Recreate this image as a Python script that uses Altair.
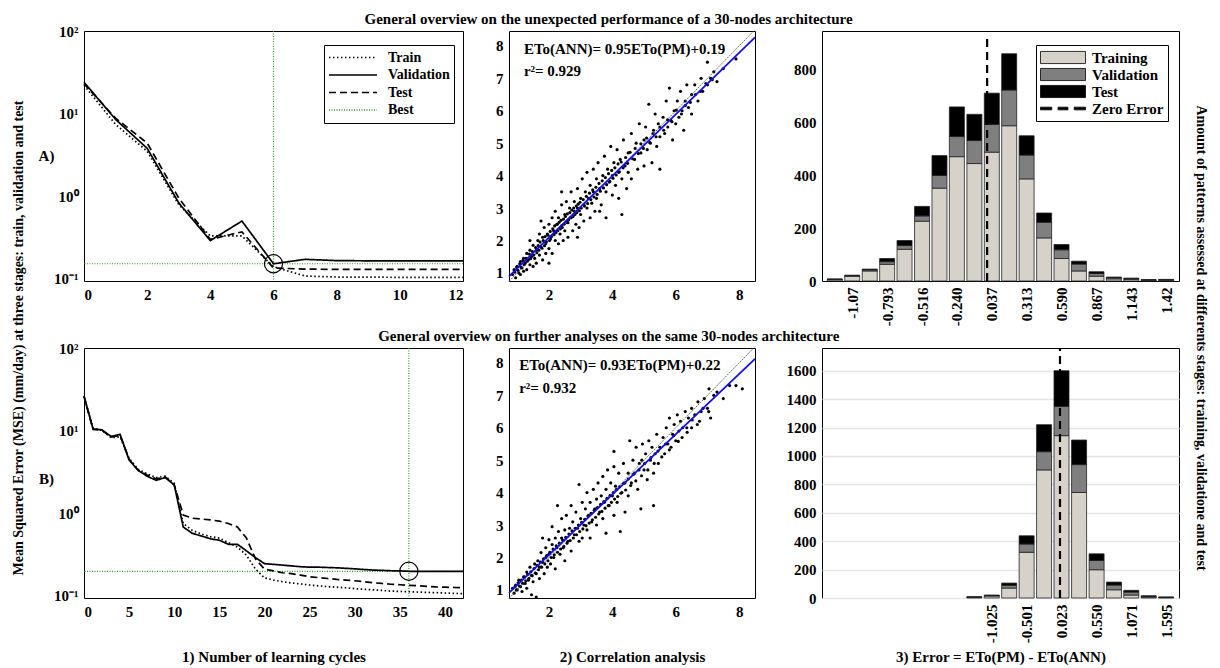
import altair as alt
import pandas as pd

FONT = "Liberation Serif"
GREEN = "#2e9a2e"

TITLE_A = "General overview on the unexpected performance of a 30-nodes architecture"
TITLE_B = "General overview on further analyses on the same 30-nodes architecture"
YLABEL_LEFT = "Mean Squared Error  (MSE) (mm/day) at three stages: train, validation and test"
YLABEL_RIGHT = "Amount of patterns assessed at differents stages: training, validatione and test"
XLABEL_1 = "1) Number of learning cycles"
XLABEL_2 = "2) Correlation analysis"
XLABEL_3 = "3) Error = ETo(PM) - ETo(ANN)"

# ---------------- 1) learning curves ----------------
series_names = ["Train", "Validation", "Test", "Best"]
series_colors = ["black", "black", "black", GREEN]
series_dash = [[1.5, 2.5], [1, 0], [7, 4], [1, 1.5]]

a_epochs = [0, 1, 2, 3, 4, 5, 6, 7, 8, 9, 10, 11, 12]
a_train = [22, 7.4, 3.5, 0.79, 0.33, 0.33, 0.14, 0.108, 0.105, 0.105, 0.104, 0.104, 0.104]
a_valid = [24, 8.5, 3.8, 0.83, 0.29, 0.50, 0.152, 0.172, 0.166, 0.165, 0.165, 0.165, 0.165]
a_test = [23, 8.8, 4.4, 0.95, 0.30, 0.37, 0.135, 0.131, 0.13, 0.13, 0.13, 0.13, 0.13]
a_best = (6, 0.152)

b_epochs = [0, 1, 2, 3, 4, 5, 6, 7, 8, 9, 10, 11, 12, 13, 14, 15, 16, 17, 18, 19, 20,
            21, 22, 23, 24, 25, 26, 27, 28, 29, 30, 31, 32, 33, 34, 35, 36, 37, 38, 39, 40, 41, 42]
b_train = [26, 10.8, 10.0, 8.2, 8.4, 4.6, 3.4, 3.0, 2.7, 2.8, 2.3, 0.75, 0.62, 0.56, 0.52, 0.5,
           0.44, 0.39, 0.31, 0.21, 0.165, 0.155, 0.148, 0.143, 0.139, 0.135, 0.132, 0.129, 0.127,
           0.125, 0.122, 0.12, 0.118, 0.116, 0.114, 0.113, 0.112, 0.111, 0.11, 0.109, 0.108, 0.107, 0.106]
b_valid = [26, 10.5, 10.2, 8.5, 9.0, 4.4, 3.3, 2.8, 2.5, 2.7, 2.2, 0.68, 0.57, 0.53, 0.49, 0.47,
           0.42, 0.42, 0.35, 0.29, 0.245, 0.24, 0.235, 0.23, 0.225, 0.222, 0.222, 0.22, 0.218,
           0.215, 0.212, 0.208, 0.205, 0.203, 0.201, 0.2, 0.198, 0.198, 0.198, 0.198, 0.198, 0.198, 0.198]
b_test = [26, 10.3, 10.1, 8.3, 8.8, 4.5, 3.3, 2.9, 2.6, 2.75, 2.2, 0.95, 0.87, 0.85, 0.83, 0.8,
          0.75, 0.68, 0.5, 0.28, 0.21, 0.2, 0.19, 0.185, 0.178, 0.17, 0.166, 0.162, 0.158, 0.155,
          0.152, 0.148, 0.144, 0.141, 0.138, 0.136, 0.134, 0.132, 0.13, 0.128, 0.127, 0.126, 0.125]
b_best = (36, 0.198)

log_ticks = [0.1, 1, 10, 100]

# ---------------- 2) correlation analysis ----------------
scatter_a = [
    (0.85, 0.95), (0.9, 1.1), (0.95, 0.85), (1.0, 1.2), (1.05, 1.0), (1.1, 1.35), (1.1, 0.95), (1.15, 1.15),
    (1.2, 1.45), (1.2, 1.05), (1.25, 1.3), (1.3, 1.6), (1.3, 1.1), (1.35, 1.4), (1.4, 1.25), (1.4, 1.7),
    (1.45, 1.5), (1.5, 1.2), (1.5, 1.85), (1.55, 1.45), (1.4, 2.0),
    (1.6, 1.7), (1.6, 1.3), (1.65, 2.0), (1.7, 1.55), (1.7, 2.2), (1.75, 1.8), (1.75, 2.6), (1.8, 1.4),
    (1.8, 2.1), (1.85, 2.4), (1.9, 1.9), (1.9, 1.6), (1.95, 2.2), (2.0, 2.5), (2.0, 1.75), (2.0, 1.3),
    (2.05, 2.05), (2.1, 2.7), (2.1, 1.6), (2.15, 2.3), (2.2, 2.0), (2.2, 2.9), (2.25, 2.5), (2.3, 1.9),
    (2.3, 2.7), (2.35, 2.2), (2.4, 3.1), (2.4, 2.45), (2.4, 3.5), (2.45, 2.0), (2.5, 2.8), (2.5, 2.3),
    (2.55, 3.2), (2.6, 2.55), (2.6, 2.1), (2.65, 3.0), (2.7, 3.5), (2.7, 2.7), (2.75, 2.3), (2.8, 3.2),
    (2.8, 2.9), (2.85, 2.5), (2.9, 3.6), (2.9, 3.0), (2.9, 2.1), (2.95, 2.4), (3.0, 3.3), (3.0, 2.8),
    (3.05, 3.9), (3.1, 3.1), (3.1, 2.6), (3.15, 3.5), (3.2, 3.0), (3.2, 4.1), (3.25, 3.3), (3.3, 2.7),
    (3.3, 3.7), (3.35, 3.15), (3.4, 4.2), (3.4, 3.5), (3.45, 2.9), (3.5, 3.9), (3.5, 3.3), (3.6, 2.9),
    (3.55, 4.4), (3.6, 3.6), (3.65, 3.1), (3.7, 4.0), (3.75, 4.6), (3.8, 3.5), (3.8, 2.7), (3.85, 4.2),
    (3.9, 3.8), (3.95, 4.9), (4.0, 4.0), (4.0, 3.4), (4.05, 4.4), (4.1, 3.7), (4.15, 4.8), (4.2, 4.1),
    (4.2, 3.3), (4.25, 4.5), (4.3, 2.8), (4.3, 3.9), (4.35, 5.1), (4.4, 4.3), (4.45, 3.6), (4.5, 4.7),
    (4.5, 4.1), (4.6, 5.3), (4.6, 3.9), (4.7, 4.5), (4.75, 5.0), (4.8, 4.2), (4.85, 5.6), (4.9, 4.7),
    (5.0, 5.1), (5.0, 4.3), (5.05, 5.5), (5.1, 4.8), (5.15, 6.2), (5.2, 5.0), (5.25, 4.4), (5.3, 5.4),
    (5.35, 5.9), (5.4, 4.9), (5.45, 5.6), (5.5, 4.2), (5.5, 5.2), (5.6, 5.8), (5.65, 5.3), (5.7, 6.3),
    (5.75, 5.5), (5.8, 6.7), (5.85, 5.7), (5.9, 5.1), (5.95, 6.0), (6.0, 5.6), (6.05, 6.3), (6.1, 5.8),
    (6.15, 6.6), (6.2, 6.0), (6.25, 5.4), (6.3, 6.3), (6.35, 6.8), (6.4, 6.1), (6.5, 6.5), (6.5, 5.9),
    (6.6, 6.8), (6.7, 6.3), (6.8, 7.0), (6.85, 6.6), (7.0, 7.5), (7.0, 6.8), (7.1, 7.0), (7.2, 7.2),
    (7.3, 6.9), (7.5, 7.3), (7.9, 7.6),
    (0.92, 1.02), (0.98, 1.18), (1.02, 1.08), (1.08, 1.28), (1.12, 1.17), (1.18, 1.38), (1.22, 1.25),
    (1.28, 1.45), (1.32, 1.36), (1.38, 1.58), (1.42, 1.44), (1.48, 1.66), (1.52, 1.55), (1.58, 1.78),
    (1.62, 1.62), (1.66, 1.84), (1.68, 1.7), (1.72, 1.95), (1.78, 1.76), (1.82, 2.0), (1.86, 1.84),
    (1.88, 2.12), (1.92, 1.96), (1.97, 2.16), (2.02, 2.0), (2.04, 2.28), (2.08, 2.12), (2.12, 2.36),
    (2.16, 2.18), (2.18, 2.45), (2.22, 2.24), (2.26, 2.5), (2.28, 2.3), (2.32, 2.56), (2.36, 2.36),
    (2.38, 2.62), (2.42, 2.4), (2.46, 2.66), (2.48, 2.5), (2.52, 2.74), (2.56, 2.56), (2.58, 2.82),
    (2.62, 2.64), (2.66, 2.86), (2.68, 2.7), (2.72, 2.94), (2.76, 2.74), (2.78, 3.0), (2.82, 2.8),
    (2.86, 3.06), (2.88, 2.86), (2.92, 3.12), (2.96, 2.92), (2.98, 3.18), (3.02, 3.0), (3.08, 3.26),
    (3.12, 3.06), (3.18, 3.36), (3.22, 3.14), (3.28, 3.46), (3.32, 3.26), (3.38, 3.56), (3.42, 3.34),
    (3.48, 3.64), (3.52, 3.42), (3.58, 3.76), (3.62, 3.52), (3.68, 3.84), (3.72, 3.62), (3.78, 3.94),
    (3.82, 3.72), (3.88, 4.06), (3.92, 3.82), (3.98, 4.16), (4.02, 3.92), (4.08, 4.24), (4.12, 4.02),
    (4.18, 4.36), (4.22, 4.12), (4.28, 4.42), (4.34, 4.24), (4.42, 4.56), (4.48, 4.38), (4.56, 4.72),
    (4.64, 4.52), (4.72, 4.84), (4.82, 4.68), (4.9, 4.98), (4.98, 4.84), (5.08, 5.16), (5.18, 5.02),
    (5.28, 5.3), (5.38, 5.2), (5.5, 5.5), (5.62, 5.4), (5.74, 5.72), (5.88, 5.66), (6.02, 6.02),
    (6.18, 5.9), (6.3, 6.16), (6.46, 6.26), (6.62, 6.5), (6.78, 6.6), (6.95, 6.84), (7.15, 6.96),
]
scatter_b = [
    (0.85, 1.05), (0.9, 0.9), (0.95, 1.15), (1.0, 1.0), (1.05, 1.3), (1.1, 1.1), (1.15, 0.95), (1.2, 1.4),
    (1.25, 1.2), (1.3, 1.05), (1.3, 1.55), (1.35, 1.3), (1.4, 1.7), (1.45, 0.85), (1.45, 1.45), (1.5, 1.25),
    (1.55, 1.8), (1.6, 1.5), (1.6, 0.78), (1.65, 1.9), (1.7, 1.35), (1.7, 1.7), (1.75, 2.15), (1.8, 1.85),
    (1.8, 2.6), (1.85, 1.5), (1.9, 2.3), (1.9, 2.0), (1.95, 1.7), (2.0, 2.55), (2.0, 2.1), (2.05, 1.8),
    (2.1, 2.4), (2.1, 2.95), (2.15, 2.0), (2.2, 2.6), (2.2, 1.65), (2.25, 2.3), (2.27, 3.6), (2.3, 2.8),
    (2.35, 2.1), (2.4, 2.6), (2.4, 3.2), (2.45, 2.3), (2.5, 2.85), (2.5, 1.9), (2.55, 3.3), (2.6, 2.5),
    (2.65, 2.9), (2.7, 3.6), (2.7, 2.2), (2.75, 3.1), (2.8, 2.7), (2.85, 3.4), (2.9, 2.9), (2.95, 4.25),
    (2.95, 2.5), (3.0, 3.2), (3.05, 3.7), (3.05, 2.6), (3.1, 3.0), (3.15, 3.5), (3.2, 2.85), (3.2, 4.0),
    (3.25, 3.3), (3.3, 3.7), (3.3, 2.6), (3.35, 3.1), (3.4, 4.1), (3.45, 3.5), (3.5, 3.0), (3.5, 3.8),
    (3.55, 4.3), (3.6, 3.4), (3.65, 3.9), (3.7, 3.2), (3.7, 4.5), (3.75, 3.7), (3.8, 2.75), (3.8, 4.1),
    (3.85, 4.7), (3.9, 3.6), (3.95, 4.3), (4.0, 3.9), (4.05, 4.8), (4.05, 3.3), (4.05, 5.27), (4.1, 4.2),
    (4.15, 3.7), (4.2, 4.6), (4.25, 2.8), (4.3, 4.0), (4.35, 4.9), (4.4, 4.3), (4.4, 3.4), (4.5, 4.6),
    (4.5, 3.9), (4.55, 5.6), (4.6, 4.3), (4.65, 5.0), (4.7, 4.6), (4.75, 5.4), (4.8, 4.1), (4.85, 4.9),
    (4.9, 3.5), (4.93, 5.0), (4.95, 5.5), (5.0, 4.7), (5.05, 5.2), (5.1, 4.4), (5.15, 5.6), (5.2, 5.0),
    (5.25, 5.4), (5.3, 4.6), (5.3, 3.6), (5.35, 5.2), (5.4, 5.8), (5.45, 4.9), (5.5, 5.4), (5.6, 5.7),
    (5.65, 5.2), (5.7, 6.0), (5.75, 5.5), (5.8, 6.3), (5.85, 5.4), (5.9, 5.8), (5.95, 6.1), (6.0, 5.6),
    (6.05, 6.4), (6.1, 5.9), (6.15, 6.2), (6.2, 5.7), (6.3, 6.5), (6.35, 6.0), (6.4, 6.3), (6.5, 6.0),
    (6.5, 6.6), (6.6, 6.4), (6.7, 6.8), (6.75, 6.2), (6.8, 6.5), (6.9, 6.9), (7.0, 6.6), (7.05, 7.2),
    (7.1, 6.3), (7.2, 7.0), (7.3, 7.1), (7.5, 6.9), (7.7, 7.3), (7.9, 7.3), (8.1, 7.2),
    (0.93, 1.1), (0.97, 1.0), (1.03, 1.22), (1.07, 1.12), (1.13, 1.3), (1.17, 1.2), (1.23, 1.4),
    (1.27, 1.28), (1.33, 1.48), (1.37, 1.36), (1.43, 1.56), (1.47, 1.44), (1.53, 1.66), (1.57, 1.52),
    (1.63, 1.76), (1.67, 1.62), (1.73, 1.86), (1.77, 1.7), (1.83, 1.96), (1.87, 1.8), (1.93, 2.06),
    (1.97, 1.9), (2.03, 2.16), (2.07, 2.0), (2.13, 2.26), (2.17, 2.08), (2.23, 2.36), (2.27, 2.16),
    (2.33, 2.44), (2.37, 2.26), (2.43, 2.54), (2.47, 2.34), (2.53, 2.62), (2.57, 2.44), (2.63, 2.72),
    (2.67, 2.52), (2.73, 2.82), (2.77, 2.6), (2.83, 2.9), (2.87, 2.7), (2.93, 3.0), (2.97, 2.8),
    (3.03, 3.08), (3.07, 2.88), (3.13, 3.18), (3.17, 2.98), (3.23, 3.28), (3.27, 3.06), (3.33, 3.36),
    (3.37, 3.16), (3.43, 3.46), (3.47, 3.24), (3.53, 3.54), (3.57, 3.34), (3.63, 3.64), (3.67, 3.42),
    (3.73, 3.72), (3.77, 3.52), (3.83, 3.82), (3.87, 3.6), (3.93, 3.92), (3.97, 3.7), (4.03, 4.0),
    (4.07, 3.8), (4.13, 4.1), (4.17, 3.88), (4.23, 4.18), (4.27, 3.98), (4.35, 4.28), (4.42, 4.08),
    (4.5, 4.42), (4.58, 4.22), (4.66, 4.56), (4.74, 4.36), (4.84, 4.7), (4.92, 4.52), (5.02, 4.9),
    (5.12, 4.7), (5.22, 5.08), (5.32, 4.9), (5.44, 5.28), (5.56, 5.1), (5.68, 5.5), (5.8, 5.32),
    (5.94, 5.76), (6.08, 5.58), (6.22, 6.0), (6.36, 5.86), (6.52, 6.24), (6.68, 6.1), (6.86, 6.6),
    (7.04, 6.5),
]
eq_a = ["ETo(ANN)= 0.95ETo(PM)+0.19", "r\u00b2= 0.929"]
eq_b = ["ETo(ANN)= 0.93ETo(PM)+0.22", "r\u00b2= 0.932"]
eq_pos_a = ([1.21, 1.21], [7.91, 7.23])   # annotation anchors in data units (PM, ANN)
eq_pos_b = ([1.06, 1.06], [7.95, 7.24])
fit_a = ([0.74, 8.5], [0.893, 8.265])
fit_b = ([0.74, 8.5], [0.908, 8.125])
diag_line = ([0.74, 8.5], [0.74, 8.5])
corr_x_domain = [0.74, 8.5]
corr_y_domain = [0.75, 8.46]

# ---------------- 3) error histograms ----------------
stage_names = ["Training", "Validation", "Test", "Zero Error"]
stage_colors = ["#d6d2ca", "#7f7f7f", "#000000", "#000000"]
stage_shapes = ["M-1,-0.27H1V0.27H-1Z", "M-1,-0.27H1V0.27H-1Z", "M-1,-0.27H1V0.27H-1Z",
                "M-1,-0.06H-0.5V0.06H-1Z M-0.22,-0.06H0.22V0.06H-0.22Z M0.5,-0.06H1V0.06H0.5Z"]

centers_a = [-1.208, -1.07, -0.931, -0.793, -0.655, -0.516, -0.378, -0.240, -0.101, 0.037,
             0.175, 0.313, 0.452, 0.590, 0.728, 0.867, 1.005, 1.143, 1.281, 1.42]
train_a = [5, 18, 38, 63, 120, 226, 351, 470, 444, 487, 587, 386, 163, 85, 38, 18, 8, 6, 3, 3]
valid_a = [1, 2, 4, 10, 14, 20, 48, 76, 87, 105, 135, 90, 59, 33, 26, 10, 4, 3, 1, 2]
test_a = [2, 2, 3, 12, 19, 36, 75, 112, 99, 118, 137, 73, 35, 20, 11, 7, 3, 2, 1, 1]
ticks_a = [-1.07, -0.793, -0.516, -0.240, 0.037, 0.313, 0.590, 0.867, 1.143, 1.42]
ticklabels_a = ["-1.07", "-0.793", "-0.516", "-0.240", "0.037", "0.313", "0.590", "0.867", "1.143", "1.42"]
xdom_a = [-1.270, 1.482]
ydom_a = [0, 945]
yticks_a = [0, 200, 400, 600, 800]
zero_top_a = 920

centers_b = [-1.287, -1.025, -0.763, -0.501, -0.239, 0.023, 0.287, 0.550, 0.811, 1.071, 1.333, 1.595]
train_b = [5, 14, 70, 322, 902, 1143, 743, 199, 58, 21, 6, 3]
valid_b = [2, 3, 19, 58, 128, 206, 196, 65, 33, 21, 5, 2]
test_b = [1, 4, 16, 58, 190, 251, 173, 47, 21, 12, 5, 2]
ticks_b = [-1.025, -0.501, 0.023, 0.550, 1.071, 1.595]
ticklabels_b = ["-1.025", "-0.501", "0.023", "0.550", "1.071", "1.595"]
xdom_b = [-3.50, 1.713]
ydom_b = [0, 1760]
yticks_b = [0, 200, 400, 600, 800, 1000, 1200, 1400, 1600]
zero_top_b = 1760

# ---------------- panel sizes ----------------
W1, W2, W3, H = 379, 246, 357, 250
GAP1, GAP2 = 46, 67


def mse_panel(epochs, tr, va, te, best, xmax, xticks, letter, letter_y, xtitle, show_legend):
    rows = []
    for name, vals in (("Train", tr), ("Validation", va), ("Test", te)):
        for e, v in zip(epochs, vals):
            rows.append({"epoch": e, "mse": v, "series": name})
    df = pd.DataFrame(rows)
    best_df = pd.DataFrame({"epoch": [best[0]], "mse": [best[1]]})
    xenc = alt.X("epoch:Q", scale=alt.Scale(domain=[0, xmax], nice=False, zero=False),
                 axis=alt.Axis(values=xticks, title=xtitle, titleY=58, titleBaseline="middle"))
    yenc = alt.Y("mse:Q", scale=alt.Scale(type="log", domain=[0.094, 100], nice=False),
                 axis=alt.Axis(values=log_ticks,
                               labelExpr="datum.value >= 100 ? '10\u00b2' : datum.value >= 10 ? '10\u00b9' : datum.value >= 1 ? '10\u2070' : '10\u207b\u00b9'",
                               title=letter, titleAngle=0, titleX=-38, titleY=letter_y,
                               titleAlign="center", titleBaseline="middle"))
    if show_legend:
        leg = alt.Legend(orient="none", legendX=240, legendY=14, title=None, strokeColor="black",
                         fillColor="white", padding=4, symbolSize=2304, clipHeight=17, rowPadding=0.5,
                         labelFontSize=14, labelOffset=10)
    else:
        leg = None
    lines = alt.Chart(df).mark_line(strokeWidth=1.7).encode(
        x=xenc, y=yenc,
        color=alt.Color("series:N", scale=alt.Scale(domain=series_names, range=series_colors), legend=leg),
        strokeDash=alt.StrokeDash("series:N", scale=alt.Scale(domain=series_names, range=series_dash), legend=leg),
    )
    vrule = alt.Chart(best_df).mark_rule(color=GREEN, strokeDash=[1, 1.5], strokeWidth=1.2).encode(x=xenc)
    hrule = alt.Chart(best_df).mark_rule(color=GREEN, strokeDash=[1, 1.5], strokeWidth=1.2).encode(y=yenc)
    circ = alt.Chart(best_df).mark_point(shape="circle", size=330, filled=False, color="black",
                                         strokeWidth=1.2, opacity=1).encode(x=xenc, y=yenc)
    return alt.layer(vrule, hrule, lines, circ).properties(width=W1, height=H)


def corr_panel(points, fit, eq, eq_pos, xtitle):
    df = pd.DataFrame({"pm": [p[0] for p in points], "ann": [p[1] for p in points]})
    fit_df = pd.DataFrame({"pm": fit[0], "ann": fit[1]})
    diag_df = pd.DataFrame({"pm": diag_line[0], "ann": diag_line[1]})
    txt_df = pd.DataFrame({"pm": eq_pos[0], "ann": eq_pos[1], "txt": eq})
    xenc = alt.X("pm:Q", scale=alt.Scale(domain=corr_x_domain, nice=False, zero=False),
                 axis=alt.Axis(values=[2, 4, 6, 8], title=xtitle, titleY=58, titleBaseline="middle"))
    yenc = alt.Y("ann:Q", scale=alt.Scale(domain=corr_y_domain, nice=False, zero=False),
                 axis=alt.Axis(values=[1, 2, 3, 4, 5, 6, 7, 8], title=None))
    pts = alt.Chart(df).mark_circle(size=10, color="black", opacity=1).encode(x=xenc, y=yenc)
    diag = alt.Chart(diag_df).mark_line(color="#444444", strokeWidth=0.8, strokeDash=[2, 1]).encode(x=xenc, y=yenc)
    fitl = alt.Chart(fit_df).mark_line(color="#1010ee", strokeWidth=1.8).encode(x=xenc, y=yenc)
    txt = alt.Chart(txt_df).mark_text(align="left", baseline="middle", font=FONT, fontWeight="bold",
                                      fontSize=15, color="black").encode(x=xenc, y=yenc, text="txt:N")
    return alt.layer(pts, diag, fitl, txt).properties(width=W2, height=H)


def hist_panel(centers, tr, va, te, xdom, ydom, yticks, ticks, ticklabels, zero_top, grid, legend, xtitle):
    rows = []
    for k, (name, vals) in enumerate((("Training", tr), ("Validation", va), ("Test", te))):
        for c, v in zip(centers, vals):
            rows.append({"center": c, "count": v, "stage": name, "k": k})
    df = pd.DataFrame(rows)
    label_expr = "[" + ",".join("'%s'" % s for s in ticklabels) + "][indexof([" + \
        ",".join(repr(t) for t in ticks) + "], datum.value)]"
    xenc = alt.X("center:Q", scale=alt.Scale(domain=xdom, nice=False, zero=False),
                 axis=alt.Axis(values=ticks, labelExpr=label_expr, labelAngle=270,
                               title=xtitle, titleY=58, titleBaseline="middle"))
    yenc = alt.Y("count:Q", stack="zero", scale=alt.Scale(domain=ydom, nice=False),
                 axis=alt.Axis(values=yticks, format="d", title=None, grid=grid, gridColor="#e4e4e4",
                               gridWidth=1.5))
    if legend:
        leg = alt.Legend(orient="none", legendX=214, legendY=14, title=None, strokeColor="black",
                         fillColor="white", padding=4, symbolSize=2025, clipHeight=17, rowPadding=0,
                         labelFontSize=15, labelOffset=6, symbolStrokeColor="black", symbolStrokeWidth=0.8)
    else:
        leg = None
    bars = alt.Chart(df).mark_bar(size=15, stroke="#222222", strokeWidth=0.8).encode(
        x=xenc, y=yenc,
        color=alt.Color("stage:N", scale=alt.Scale(domain=stage_names, range=stage_colors), legend=leg),
        order=alt.Order("k:Q"),
    )
    zero_df = pd.DataFrame({"center": [0.0], "count": [0], "top": [zero_top]})
    zero = alt.Chart(zero_df).mark_rule(color="black", strokeWidth=2.2, strokeDash=[8, 5]).encode(
        x=xenc, y=alt.Y("count:Q", axis=None), y2="top:Q")
    layers = [bars, zero]
    if legend:
        leg_df = pd.concat([df, pd.DataFrame({"center": [0.0], "count": [0], "stage": ["Zero Error"], "k": [3]})])
        legpts = alt.Chart(leg_df).mark_point(size=0, filled=True, opacity=1).encode(
            x=xenc, y=alt.Y("count:Q", axis=None),
            color=alt.Color("stage:N", scale=alt.Scale(domain=stage_names, range=stage_colors), legend=leg),
            shape=alt.Shape("stage:N", scale=alt.Scale(domain=stage_names, range=stage_shapes), legend=leg),
        )
        layers.append(legpts)
    return alt.layer(*layers).resolve_axis(y="independent").properties(width=W3, height=H)


def spacer(w):
    return alt.Chart(pd.DataFrame({"v": [0]})).mark_point(opacity=0).properties(
        width=w, height=H, view=alt.ViewBackground(stroke="transparent"))


mse_a = mse_panel(a_epochs, a_train, a_valid, a_test, a_best, 12, [0, 2, 4, 6, 8, 10, 12], "A)", 124, None, True)
mse_b = mse_panel(b_epochs, b_train, b_valid, b_test, b_best, 42, [0, 5, 10, 15, 20, 25, 30, 35, 40], "B)", 130, XLABEL_1, False)
corr_a = corr_panel(scatter_a, fit_a, eq_a, eq_pos_a, None)
corr_b = corr_panel(scatter_b, fit_b, eq_b, eq_pos_b, XLABEL_2)
hist_a = hist_panel(centers_a, train_a, valid_a, test_a, xdom_a, ydom_a, yticks_a, ticks_a, ticklabels_a,
                    zero_top_a, False, True, None)
hist_b = hist_panel(centers_b, train_b, valid_b, test_b, xdom_b, ydom_b, yticks_b, ticks_b, ticklabels_b,
                    zero_top_b, True, False, XLABEL_3)

RES = dict(color="independent", strokeDash="independent", shape="independent")


def row(p1, p2, p3, title):
    return alt.hconcat(p1, spacer(GAP1), p2, spacer(GAP2), p3, spacing=0, bounds="flush",
                       title=alt.TitleParams(title, anchor="middle", offset=-3)
                       ).resolve_scale(**RES).resolve_legend(**RES)


row_a = row(mse_a, corr_a, hist_a, TITLE_A)
row_b = row(mse_b, corr_b, hist_b, TITLE_B)

inner = alt.vconcat(row_a, row_b, spacing=1,
                    title=alt.TitleParams(YLABEL_LEFT, orient="left", anchor="middle", offset=12, fontSize=14)
                    ).resolve_scale(**RES).resolve_legend(**RES)

chart = alt.vconcat(inner, title=alt.TitleParams(YLABEL_RIGHT, orient="right", anchor="middle", offset=14,
                                                 fontSize=14)
                    ).resolve_scale(**RES).resolve_legend(**RES).properties(padding=3)

chart = chart.configure(font=FONT).configure_view(stroke="black", strokeWidth=1).configure_axis(
    labelFont=FONT, labelFontSize=15, labelFontWeight="bold", labelColor="black",
    titleFont=FONT, titleFontSize=15, titleFontWeight="bold", titleColor="black",
    domain=False, ticks=False, grid=False, labelPadding=6,
).configure_legend(labelFont=FONT, labelFontWeight="bold", labelColor="black").configure_title(
    font=FONT, fontWeight="bold", fontSize=15, color="black")

chart.save("out.html", embed_options={"renderer": "svg", "actions": False})
